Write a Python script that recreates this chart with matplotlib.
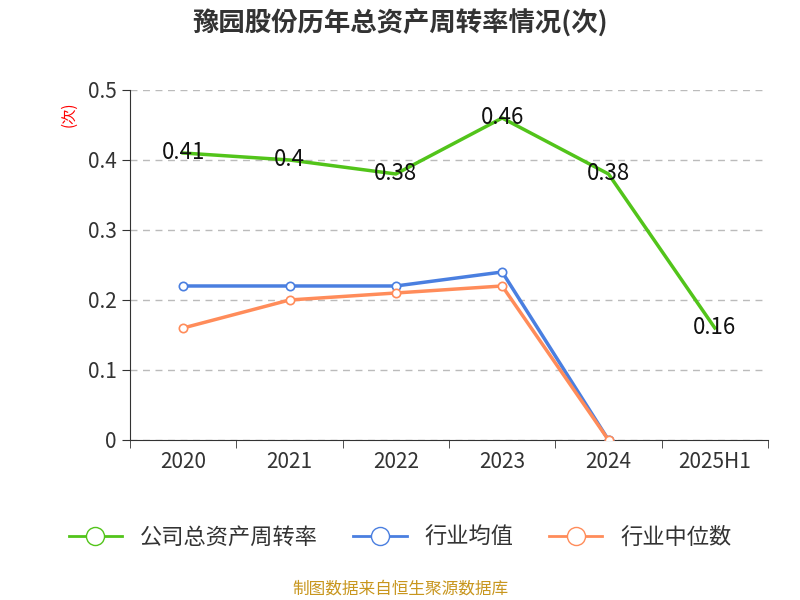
import matplotlib.pyplot as plt
from matplotlib import font_manager

# pick whichever CJK family matplotlib can actually find
cjk = [f.name for f in font_manager.fontManager.ttflist if "CJK" in f.name]
pref = [n for n in ["Noto Sans CJK SC", "Noto Sans CJK JP"] if n in cjk] or cjk[:1]
plt.rcParams["font.family"] = "sans-serif"
plt.rcParams["font.sans-serif"] = pref + ["DejaVu Sans"]

categories = ["2020", "2021", "2022", "2023", "2024", "2025H1"]
company = [0.41, 0.40, 0.38, 0.46, 0.38, 0.16]
industry_avg = [0.22, 0.22, 0.22, 0.24, 0.0]
industry_median = [0.16, 0.20, 0.21, 0.22, 0.0]
company_labels = ["0.41", "0.4", "0.38", "0.46", "0.38", "0.16"]

GREEN = "#52c41a"
BLUE = "#4a7fe0"
ORANGE = "#ff8c5a"

fig = plt.figure(figsize=(8, 6), dpi=100)
ax = fig.add_axes([0.1625, 0.2667, 0.7975, 0.5833])

x = list(range(len(categories)))
ax.plot(x, company, color=GREEN, lw=2.5, zorder=3)
for xi, v, lab in zip(x, company, company_labels):
    ax.text(xi, v, lab, ha="center", va="center", fontsize=16, color="#111111", zorder=5)

xa = x[:len(industry_avg)]
ax.plot(xa, industry_avg, color=BLUE, lw=2.5, marker="o", ms=6,
        mfc="white", mec=BLUE, mew=1.2, zorder=4)
ax.plot(xa, industry_median, color=ORANGE, lw=2.5, marker="o", ms=6,
        mfc="white", mec=ORANGE, mew=1.2, zorder=4)

ax.set_xlim(-0.5, 5.5)
ax.set_ylim(0, 0.5)
ax.set_yticks([0, 0.1, 0.2, 0.3, 0.4, 0.5])
ax.set_yticklabels(["0", "0.1", "0.2", "0.3", "0.4", "0.5"], fontsize=15, color="#333333")
ax.set_xticks(x)
ax.set_xticklabels(categories, fontsize=15, color="#333333")
ax.set_xticks([i - 0.5 for i in range(7)], minor=True)
ax.tick_params(axis="x", which="major", length=0, pad=8)
ax.tick_params(axis="x", which="minor", length=6, color="#333333")
ax.tick_params(axis="y", length=6, color="#333333")
ax.grid(axis="y", ls=(0, (5, 4)), color="#bbbbbb", lw=1)
for s in ["top", "right"]:
    ax.spines[s].set_visible(False)
ax.spines["left"].set_color("#333333")
ax.spines["bottom"].set_color("#333333")
ax.text(-0.095, 0.93, "(次)", transform=ax.transAxes, rotation=90, color="red",
        fontsize=11, ha="center", va="center")

fig.text(0.5, 0.96, "豫园股份历年总资产周转率情况(次)", ha="center", va="center",
         fontsize=19, fontweight="bold", color="#333333")

handles = [
    plt.Line2D([], [], color=GREEN, lw=2, marker="o", ms=13, mfc="white", mec=GREEN),
    plt.Line2D([], [], color=BLUE, lw=2, marker="o", ms=13, mfc="white", mec=BLUE),
    plt.Line2D([], [], color=ORANGE, lw=2, marker="o", ms=13, mfc="white", mec=ORANGE),
]
fig.legend(handles, ["公司总资产周转率", "行业均值", "行业中位数"], loc="center",
           bbox_to_anchor=(0.5, 0.105), ncol=3, frameon=False, fontsize=16,
           handlelength=2.4, columnspacing=1.6, labelcolor="#333333")

fig.text(0.5, 0.018, "制图数据来自恒生聚源数据库", ha="center", va="center",
         fontsize=12, color="#c8961e")

fig.savefig("out.png", dpi=100)
